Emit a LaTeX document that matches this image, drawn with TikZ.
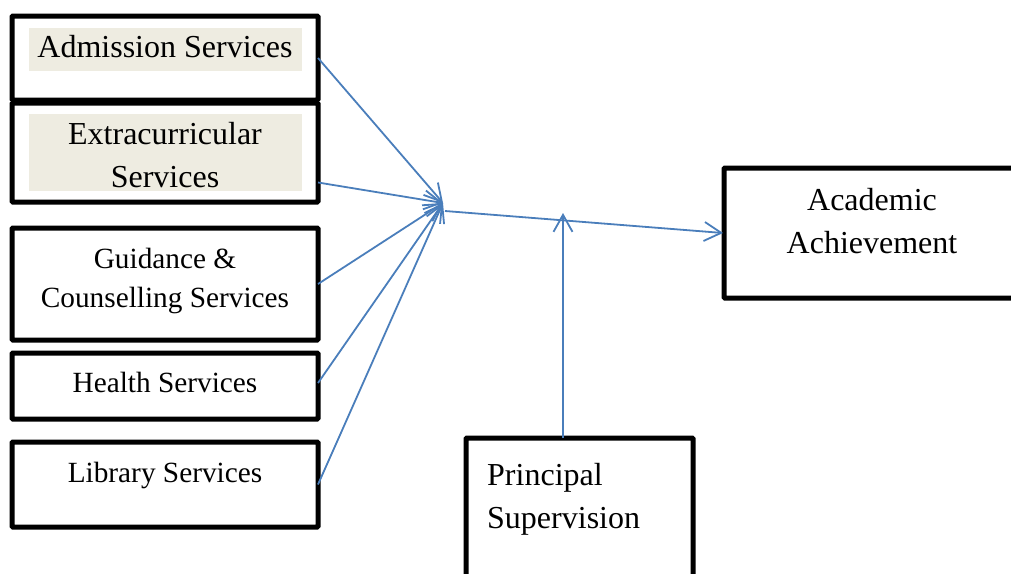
\documentclass[tikz,border=0pt]{standalone}
\usepackage{fontspec}
\setmainfont{Liberation Serif}
\usetikzlibrary{arrows.meta,calc}
\definecolor{lineblue}{HTML}{4A7EBB}
\definecolor{shadecol}{HTML}{EEECE1}
\tikzset{
 box/.style={draw=black, line width=5pt, inner sep=0pt, outer sep=0pt, rectangle, rounded corners=1pt},
 shadebox/.style={fill=shadecol, inner sep=0pt, outer sep=0pt, rectangle},
 big/.style={font=\fontsize{32}{43}\selectfont, inner sep=0pt, align=center},
 small/.style={font=\fontsize{29.3}{39}\selectfont, inner sep=0pt, align=center},
 conn/.style={draw=lineblue, line width=1.8pt, -{Straight Barb[length=17pt,width=19pt,line width=1.8pt]}},
}
\begin{document}
\begin{tikzpicture}[x=1pt,y=-1pt]
\useasboundingbox (0,0) rectangle (1011,573);
\clip (0,0) rectangle (1011,573);
% shading
\node[shadebox, minimum width=273pt, minimum height=43pt] (admS) at (165.5,49.5) {};
\node[shadebox, minimum width=273pt, minimum height=77pt] (extS) at (165.5,152.5) {};
% boxes
\node[box, minimum width=306pt, minimum height=84pt] (adm) at (165,58) {};
\node[box, minimum width=306pt, minimum height=99pt] (ext) at (165,152.5) {};
\node[box, minimum width=306pt, minimum height=112pt] (gui) at (165,284) {};
\node[box, minimum width=306pt, minimum height=66pt] (hea) at (165,386) {};
\node[box, minimum width=306pt, minimum height=85pt] (lib) at (165,484.5) {};
\node[box, minimum width=292pt, minimum height=130pt] (acad) at (870,233) {};
\node[box, minimum width=227pt, minimum height=182pt] (prin) at (579.5,529) {};
% texts (base anchor = baseline of the last line)
\node[big, anchor=base] (admT) at (165,57) {Admission Services};
\node[big, anchor=base] (extT) at (165,187) {Extracurricular\\Services};
\node[small, anchor=base] (guiT) at (165,307) {Guidance \&\\Counselling Services};
\node[small, anchor=base] (heaT) at (165,392) {Health Services};
\node[small, anchor=base] (libT) at (165,482) {Library Services};
\node[big, anchor=base] (acadT) at (872,253) {Academic\\Achievement};
\node[big, anchor=base west, align=left] (prinT) at (487,528) {Principal\\Supervision};
% connectors
\coordinate (hub) at (443,203);
\coordinate (hubout) at (445,211);
\coordinate (mod) at (563,213);
\draw[conn] (adm.east) -- (hub);
\draw[conn] ($(ext.east)+(0,30)$) -- (hub);
\draw[conn] (gui.east) -- (hub);
\draw[conn] ($(hea.east)+(0,-3)$) -- (hub);
\draw[conn] (lib.east) -- (hub);
\draw[conn] (hubout) -- ($(acad.west)+(-1,0)$);
\draw[conn] ($(prin.north)+(-16.5,0)$) -- (mod);
\end{tikzpicture}
\end{document}
